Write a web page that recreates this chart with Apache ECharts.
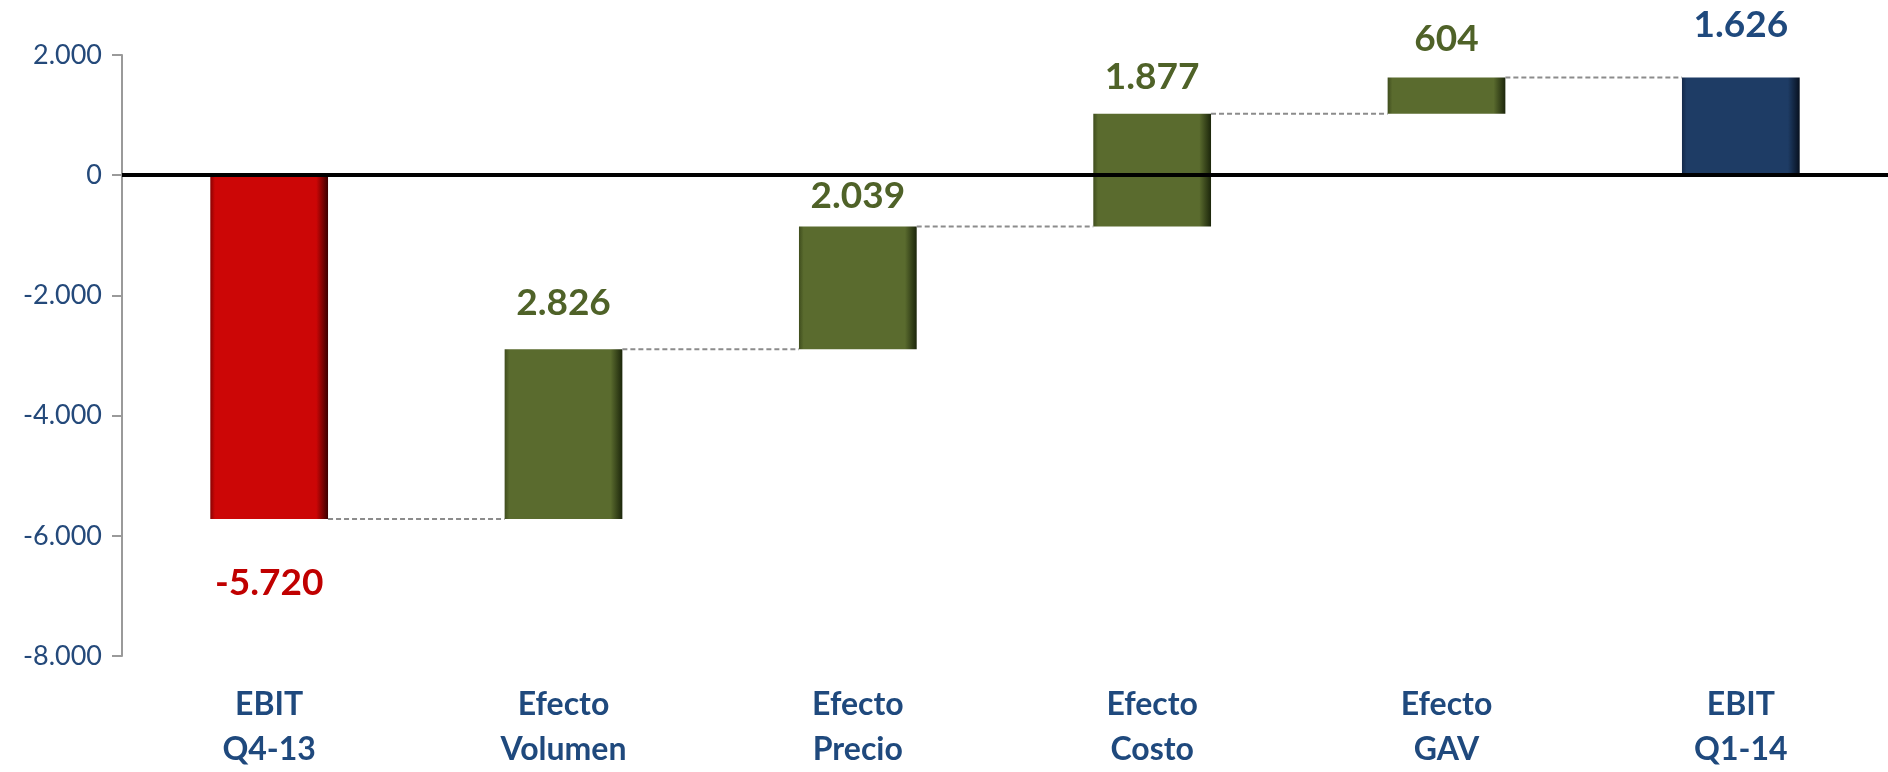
<!DOCTYPE html>
<html>
<head>
<meta charset="utf-8">
<script src="https://cdn.jsdelivr.net/npm/echarts@6/dist/echarts.min.js"></script>
<style>html,body{margin:0;padding:0;background:#fff;}#c{width:1888px;height:772px;}</style>
</head>
<body>
<div id="c"></div>
<script>
// ---- data ----
const categories = ['EBIT\nQ4-13', 'Efecto\nVolumen', 'Efecto\nPrecio', 'Efecto\nCosto', 'Efecto\nGAV', 'EBIT\nQ1-14'];
const deltas = [-5720, 2826, 2039, 1877, 604, 1626];   // bar amounts (first & last are totals)
const kinds = ['start', 'delta', 'delta', 'delta', 'delta', 'total'];
const yTicks = [-8000, -6000, -4000, -2000, 0, 2000];

// ---- styles ----
const labelDist = [46, 28, 12, 18, 20, 34];
const palette = {
  start: { main: '#CC0606', edge: '#3a0000', light: '#8a0202', text: '#C00000' },
  delta: { main: '#5A6B2E', edge: '#1c260b', light: '#3f4d1d', text: '#4F6228' },
  total: { main: '#1E3C65', edge: '#07101f', light: '#14294a', text: '#1F497D' }
};
function grad(k) {
  const p = palette[k];
  return new echarts.graphic.LinearGradient(0, 0, 1, 0, [
    { offset: 0, color: p.light }, { offset: 0.04, color: p.main },
    { offset: 0.9, color: p.main }, { offset: 1, color: p.edge }
  ]);
}
function fmt(v) {
  const s = Math.abs(v).toString().replace(/\B(?=(\d{3})+(?!\d))/g, '.');
  return (v < 0 ? '-' : '') + s;
}

// ---- build waterfall ranges ----
const lows = [], highs = [];
let run = 0;
deltas.forEach((d, i) => {
  if (kinds[i] === 'delta') { const a = run, b = run + d; lows.push(Math.min(a, b)); highs.push(Math.max(a, b)); run = b; }
  else { run = d; lows.push(Math.min(0, d)); highs.push(Math.max(0, d)); }
});
const base = [], negVis = [], posVis = [];
for (let i = 0; i < deltas.length; i++) {
  const lo = lows[i], hi = highs[i], k = kinds[i];
  if (hi <= 0) { base.push(hi); negVis.push({ value: lo - hi, itemStyle: { color: grad(k) } }); posVis.push('-'); }
  else if (lo >= 0) { base.push(lo); posVis.push({ value: hi - lo, itemStyle: { color: grad(k) } }); negVis.push('-'); }
  else { base.push(0); negVis.push({ value: lo, itemStyle: { color: grad(k) } }); posVis.push({ value: hi, itemStyle: { color: grad(k) } }); }
}
// label anchor points
const labelPts = deltas.map((d, i) => {
  const below = d < 0 && kinds[i] !== 'delta';
  return {
    value: [i, below ? lows[i] : highs[i]],
    label: { position: below ? 'bottom' : 'top', distance: labelDist[i], color: palette[kinds[i]].text, formatter: () => fmt(d) }
  };
});
// connector levels
const connectors = [];
for (let i = 0; i < deltas.length - 1; i++) {
  const level = kinds[i] === 'start' ? deltas[i] : (deltas[i] >= 0 ? highs[i] : lows[i]);
  connectors.push([i, level]);
}

const chart = echarts.init(document.getElementById('c'));
chart.setOption({
  animation: false,
  backgroundColor: '#ffffff',
  grid: { left: 122, right: 0, top: 55, bottom: 114, containLabel: false },
  xAxis: {
    type: 'category', data: categories,
    axisLine: { show: false }, axisTick: { show: false },
    axisLabel: { color: '#1F497D', fontFamily: 'Lato', fontWeight: 'bold', fontSize: 32, lineHeight: 45, margin: 26 }
  },
  yAxis: {
    type: 'value', min: yTicks[0], max: yTicks[yTicks.length - 1], interval: 2000,
    splitLine: { show: false },
    axisLine: { show: true, lineStyle: { color: '#9a9a9a', width: 2 } },
    axisTick: { show: true, length: 10, lineStyle: { color: '#9a9a9a', width: 2 } },
    axisLabel: { color: '#24497A', fontFamily: 'Lato', fontSize: 27, margin: 20, formatter: v => fmt(v) }
  },
  series: [
    {
      type: 'bar', stack: 'w', stackStrategy: 'samesign', barWidth: '40%', data: base,
      itemStyle: { color: 'rgba(0,0,0,0)' }, silent: true,
      markLine: {
        silent: true, symbol: 'none', label: { show: false },
        lineStyle: { color: '#000', width: 4, type: 'solid' },
        data: [{ yAxis: 0 }], z: 10
      }
    },
    { type: 'bar', stack: 'w', stackStrategy: 'samesign', barWidth: '40%', data: negVis },
    { type: 'bar', stack: 'w', stackStrategy: 'samesign', barWidth: '40%', data: posVis },
    {
      type: 'custom', data: connectors, z: 5,
      renderItem: (params, api) => {
        const p = api.coord([api.value(0), api.value(1)]);
        const bw = api.size([1, 0])[0];
        return {
          type: 'line',
          shape: { x1: p[0] + bw * 0.2, y1: p[1], x2: p[0] + bw * 0.8, y2: p[1] },
          style: { stroke: '#8c8c8c', lineWidth: 2, lineDash: [5, 3] }
        };
      }
    },
    {
      type: 'scatter', symbolSize: 0, data: labelPts, silent: true, z: 20,
      itemStyle: { opacity: 1 },
      label: { show: true, fontFamily: 'Lato', fontWeight: 'bold', fontSize: 37, opacity: 1 }
    }
  ]
});
</script>
</body>
</html>
